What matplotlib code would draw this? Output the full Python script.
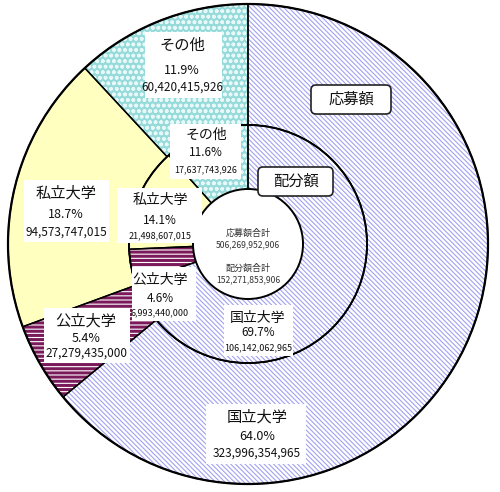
import numpy as np
import matplotlib.pyplot as plt
from matplotlib.patches import Circle, FancyBboxPatch

plt.rcParams['font.family'] = ['Noto Sans CJK JP', 'DejaVu Sans']

# データ
categories = ['国立大学', '公立大学', '私立大学', 'その他']
apply_pct = [64.0, 5.4, 18.7, 11.9]
apply_amount = ['323,996,354,965', '27,279,435,000', '94,573,747,015', '60,420,415,926']
alloc_pct = [69.7, 4.6, 14.1, 11.6]
alloc_amount = ['106,142,062,965', '6,993,440,000', '21,498,607,015', '17,637,743,926']
apply_total = '506,269,952,906'
alloc_total = '152,271,853,906'

fills = ['white', 'white', '#FFFFC0', '#96DADA']
hatches = ['\\' * 7, '----', None, 'ooo']
hatch_colors = ['#A2A2F2', '#7A1A5A', '#FFFFC0', '#E6F8F8']
hatch_widths = [0.8, 2.2, 1.0, 1.1]

W, H = 500, 492
fig = plt.figure(figsize=(5.0, 4.92), dpi=100)
ax = fig.add_axes([0, 0, 1, 1])
ax.set_xlim(0, W)
ax.set_ylim(0, H)
ax.set_aspect('equal')
ax.axis('off')

cx, cy = 248, H - 244
R_out, R_in, R_c = 240, 119, 55


def draw_ring(vals, radius, width):
    for i in range(len(vals)):
        with plt.rc_context({'hatch.linewidth': hatch_widths[i]}):
            wedges, _ = ax.pie(vals, radius=radius, center=(cx, cy), startangle=90,
                               counterclock=False, frame=True,
                               wedgeprops=dict(width=width, linewidth=0))
            for j, w in enumerate(wedges):
                if j != i:
                    w.remove()
                    continue
                w.set_facecolor(fills[i])
                w.set_edgecolor(hatch_colors[i])
                if hatches[i]:
                    w.set_hatch(hatches[i])
                w.set_linewidth(0)
    # 外枠
    ax.pie(vals, radius=radius, center=(cx, cy), startangle=90, counterclock=False,
           frame=True,
           wedgeprops=dict(width=width, facecolor='none', edgecolor='black', linewidth=1.0))


draw_ring(apply_pct, R_out, R_out - R_in)
draw_ring(alloc_pct, R_in, R_in)
ax.add_patch(Circle((cx, cy), R_out, facecolor='none', edgecolor='black', linewidth=1.6, zorder=3))
ax.add_patch(Circle((cx, cy), R_in, facecolor='none', edgecolor='black', linewidth=1.4, zorder=3))
ax.add_patch(Circle((cx, cy), R_c, facecolor='white', edgecolor='black', linewidth=1.4, zorder=4))

ax.set_xlim(0, W)
ax.set_ylim(0, H)


def label(x, lines, sizes, box):
    x0, y0, x1, y1 = box
    ax.add_patch(plt.Rectangle((x0, H - y1), x1 - x0, y1 - y0, facecolor='white',
                               edgecolor='none', zorder=5))
    for (ty, t), s in zip(lines, sizes):
        ax.text(x, H - ty, t, ha='center', va='center', fontsize=s, zorder=6, color='#111111')


# 応募額 (外側)
label(182, [(45, 'その他'), (70, f'{apply_pct[3]}%'), (87, apply_amount[3])],
      [11, 9, 8.5], (145, 32, 222, 98))
label(66, [(193, '私立大学'), (214, f'{apply_pct[2]}%'), (232, apply_amount[2])],
      [11, 9, 8.5], (24, 180, 109, 242))
label(86, [(321, '公立大学'), (338, f'{apply_pct[1]}%'), (353, apply_amount[1])],
      [11, 9, 8.5], (44, 308, 130, 363))
label(257, [(417, '国立大学'), (436, f'{apply_pct[0]}%'), (453, apply_amount[0])],
      [11, 9, 8.5], (206, 404, 306, 464))

# 配分額 (内側)
label(206, [(135, 'その他'), (153, f'{alloc_pct[3]}%'), (170, alloc_amount[3])],
      [10, 8.5, 6.5], (170, 124, 241, 179))
label(160, [(200, '私立大学'), (220, f'{alloc_pct[2]}%'), (236, alloc_amount[2])],
      [10, 8.5, 6.5], (117, 188, 202, 243))
label(160, [(280, '公立大学'), (298, f'{alloc_pct[1]}%'), (313, alloc_amount[1])],
      [10, 8.5, 6.5], (132, 267, 196, 321))
label(258, [(318, '国立大学'), (333, f'{alloc_pct[0]}%'), (348, alloc_amount[0])],
      [10, 8.5, 6.5], (224, 305, 293, 356))

# 中央
ax.text(cx, H - 233, '応募額合計', ha='center', va='center', fontsize=6.5, zorder=6, color='#333333')
ax.text(cx, H - 245, apply_total, ha='center', va='center', fontsize=6.2, zorder=6, color='#333333')
ax.text(cx, H - 268, '配分額合計', ha='center', va='center', fontsize=6.5, zorder=6, color='#333333')
ax.text(cx, H - 280, alloc_total, ha='center', va='center', fontsize=6.2, zorder=6, color='#333333')

# 凡例ボックス
for (x0, y0, x1, y1), t in [((311, 85, 391, 114), '応募額'), ((258, 167, 333, 196), '配分額')]:
    ax.add_patch(FancyBboxPatch((x0, H - y1), x1 - x0, y1 - y0,
                                boxstyle='round,pad=0,rounding_size=5',
                                facecolor='white', edgecolor='#222222', linewidth=1.2, zorder=5))
    ax.text((x0 + x1) / 2, H - (y0 + y1) / 2, t, ha='center', va='center',
            fontsize=11, zorder=6, color='#111111')

plt.savefig('out.png', dpi=100)
